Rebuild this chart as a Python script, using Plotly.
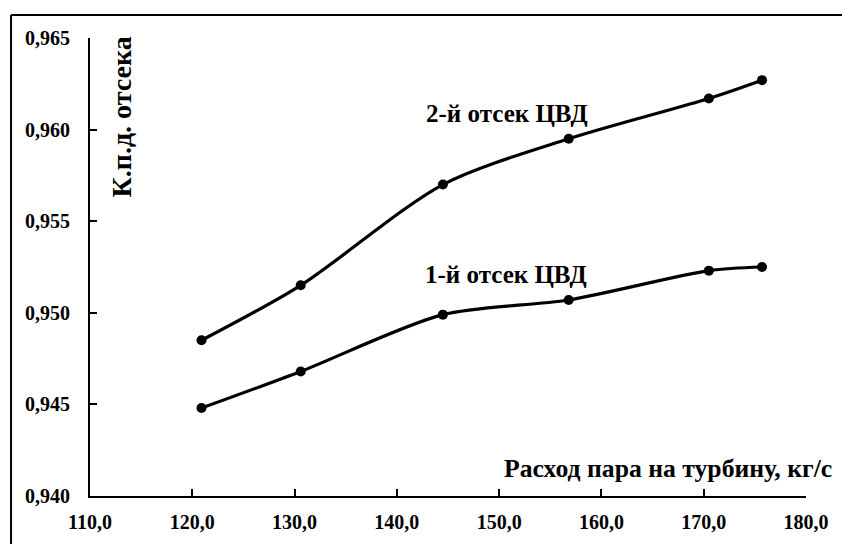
import plotly.graph_objects as go

# Steam flow to the turbine, kg/s
flow = [120.9, 130.6, 144.5, 156.8, 170.5, 175.7]
# Efficiency of the HP cylinder sections
eff_section1 = [0.9448, 0.9468, 0.9499, 0.9507, 0.9523, 0.9525]
eff_section2 = [0.9485, 0.9515, 0.9570, 0.9595, 0.9617, 0.9627]

x_ticks = [110, 120, 130, 140, 150, 160, 170, 180]
x_tick_text = ["110,0", "120,0", "130,0", "140,0", "150,0", "160,0", "170,0", "180,0"]
y_ticks = [0.940, 0.945, 0.950, 0.955, 0.960, 0.965]
y_tick_text = ["0,940", "0,945", "0,950", "0,955", "0,960", "0,965"]

FONT = "Liberation Serif, Times New Roman, serif"

fig = go.Figure()
for ys in (eff_section1, eff_section2):
    fig.add_trace(go.Scatter(
        x=flow, y=ys, mode="lines+markers",
        line=dict(color="black", width=3.2, shape="spline", smoothing=0.8),
        marker=dict(color="black", size=10),
        showlegend=False, hoverinfo="skip",
    ))

axis_common = dict(
    showline=True, linecolor="black", linewidth=2,
    ticks="inside", ticklen=7, tickwidth=1.5, tickcolor="black",
    showgrid=False, zeroline=False,
    tickfont=dict(family=FONT, size=20, color="black", weight="bold"),
)
fig.update_xaxes(range=[110, 180], tickvals=x_ticks, ticktext=x_tick_text,
                 ticklabelstandoff=7, **axis_common)
fig.update_yaxes(range=[0.940, 0.965], tickvals=y_ticks, ticktext=y_tick_text,
                 ticklabelstandoff=14, **axis_common)


def label(size):
    return dict(family=FONT, size=size, color="black", weight="bold")


fig.add_annotation(x=150.8, y=0.9609, text="2-й отсек ЦВД", showarrow=False,
                   font=label(25), xanchor="center", yanchor="middle")
fig.add_annotation(x=150.7, y=0.9521, text="1-й отсек ЦВД", showarrow=False,
                   font=label(25), xanchor="center", yanchor="middle")
fig.add_annotation(x=166.5, y=0.9415, text="Расход пара на турбину, кг/с",
                   showarrow=False, font=label(25.7),
                   xanchor="center", yanchor="middle")
fig.add_annotation(x=113.1, y=0.9607, text="К.п.д. отсека", textangle=-90,
                   showarrow=False, font=label(28),
                   xanchor="center", yanchor="middle")

# Frame around the chart (top and left edges)
fig.add_shape(type="line", xref="paper", yref="paper",
              x0=-0.1103, y0=-0.2, x1=-0.1103, y1=1.0502,
              line=dict(color="black", width=2))
fig.add_shape(type="line", xref="paper", yref="paper",
              x0=-0.1103, y0=1.0502, x1=1.2, y1=1.0502,
              line=dict(color="black", width=2))

fig.update_layout(
    width=842, height=544,
    margin=dict(l=90, r=36, t=38, b=48),
    paper_bgcolor="white", plot_bgcolor="white",
)

fig.write_html("out.html")
